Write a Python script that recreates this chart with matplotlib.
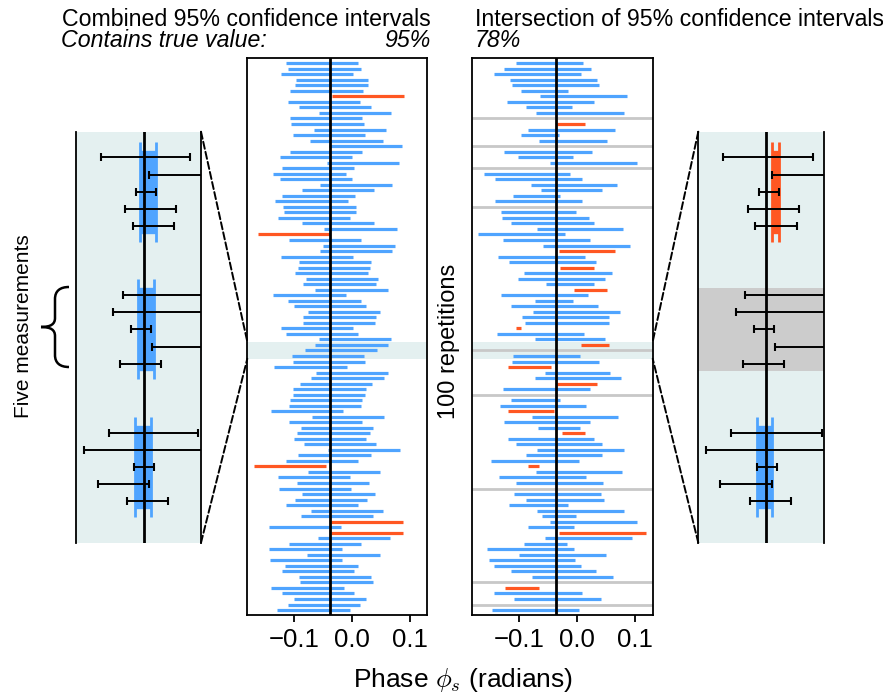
import numpy as np
import matplotlib.pyplot as plt
from matplotlib.patches import ConnectionPatch, PathPatch
from matplotlib.path import Path

plt.rcParams['font.family'] = ['Liberation Sans', 'DejaVu Sans']

true_phase = -0.037

# combined (weighted) 95% intervals, one per repetition: centre and half width
comb_halfwidth = 0.0624
comb_centers = [
    -0.0520, -0.0474, -0.0603, -0.0342, -0.0353, -0.0440, 0.0276, -0.0486, -0.0290, 0.0052,
    -0.0448, -0.0422, -0.0029, -0.0399, -0.0095, 0.0236, -0.0448, -0.0621, 0.0195, -0.0586,
    -0.0733, -0.0621, 0.0069, -0.0239, -0.0578, -0.0698, -0.0560, -0.0552, -0.0652, -0.0244,
    0.0147, -0.1000, -0.0466, 0.0124, 0.0075, -0.0603, -0.0290, -0.0307, -0.0351, -0.0172,
    -0.0216, -0.0006, -0.0730, -0.0474, -0.0374, -0.0132, -0.0213, -0.0218, -0.0598, -0.0517,
    0.0052, -0.0009, -0.0193, -0.0417, -0.0399, -0.0713, 0.0006, -0.0075, -0.0276, -0.0385,
    -0.0394, -0.0443, -0.0460, -0.0776, -0.0063, -0.0454, -0.0253, -0.0316, -0.0374, -0.0207,
    0.0207, -0.0299, -0.0511, -0.1063, -0.0138, -0.0658, -0.0328, -0.0641, -0.0230, -0.0356,
    -0.0511, -0.0080, -0.0253, 0.0259, -0.0813, 0.0261, 0.0034, -0.0466, -0.0802, -0.0144,
    -0.0793, -0.0523, -0.0580, -0.0293, -0.0264, -0.0764, -0.0580, -0.0376, -0.0477, -0.0661,
]

# intersection of the five 95% intervals (nan = empty intersection)
nan = np.nan
inter_lo = [
    -0.1046, -0.1260, -0.1439, -0.1162, -0.1121, -0.0960, -0.0647, -0.1202, -0.0879, -0.0705,
    nan, -0.0341, -0.0850, -0.0971, -0.0653, nan, -0.1254, -0.1012, -0.0474, nan,
    -0.1607, -0.1422, -0.0803, -0.0630, -0.1098, -0.1416, nan, -0.1306, -0.1301, -0.1133,
    -0.0688, -0.1699, -0.1277, -0.0595, -0.0318, -0.1364, -0.1168, -0.0295, -0.0908, -0.1017,
    -0.0532, -0.0046, -0.1306, -0.0728, -0.1133, -0.0763, -0.0954, -0.0896, -0.1058, -0.1376,
    -0.0734, 0.0064, nan, -0.1098, -0.1127, -0.1197, -0.0555, -0.0734, -0.0341, -0.1283,
    nan, -0.1139, -0.1329, -0.1197, -0.0780, -0.1266, -0.0676, -0.0254, -0.1197, -0.1058,
    -0.0688, -0.0879, -0.1480, -0.0844, -0.0717, -0.1341, -0.1052, nan, -0.1092, -0.0873,
    -0.1173, -0.0699, -0.0607, -0.0474, -0.0850, -0.0318, -0.0561, -0.0919, -0.1555, -0.1006,
    -0.1526, -0.1434, -0.1133, -0.0775, nan, -0.1237, -0.1428, -0.1081, nan, -0.1468,
]
inter_hi = [
    0.0092, 0.0237, 0.0058, 0.0335, 0.0376, -0.0156, 0.0850, 0.0283, -0.0087, 0.0798,
    nan, 0.0139, 0.0653, -0.0318, 0.0520, nan, 0.0249, -0.0075, 0.1023, nan,
    -0.0116, 0.0075, 0.0694, 0.0428, -0.0289, 0.0081, nan, -0.0017, 0.0197, 0.0295,
    0.0792, -0.0202, 0.0220, 0.0902, 0.0653, 0.0133, 0.0329, 0.0283, 0.0595, 0.0480,
    0.0295, 0.0514, 0.0191, -0.0069, 0.0364, 0.0734, 0.0543, 0.0555, -0.0960, 0.0116,
    0.0480, 0.0549, nan, 0.0052, 0.0370, -0.0445, 0.0566, 0.0757, 0.0335, 0.0214,
    nan, -0.0289, 0.0156, -0.0399, 0.0711, 0.0225, 0.0046, 0.0139, 0.0295, 0.0434,
    0.0809, 0.0422, 0.0023, -0.0665, 0.0775, 0.0156, 0.0439, nan, 0.0405, 0.0468,
    -0.0162, 0.0798, -0.0017, 0.1023, -0.0058, 0.1185, 0.0936, -0.0173, -0.0052, 0.0497,
    -0.0029, 0.0064, 0.0324, 0.0618, nan, -0.0665, 0.0075, 0.0416, nan, 0.0029,
]

# the five individual measurements of repetitions 51-53
zoom_rows = [51, 52, 53]
meas_lo = [
    [-0.363, 0.0085, -0.0926, -0.176, -0.1203],
    [-0.195, -0.2668, -0.1304, 0.0287, -0.2138],
    [-0.302, -0.489, -0.1077, -0.383, -0.1607],
]
meas_hi = [
    [0.317, 1.0085, 0.0564, 0.213, 0.1928],
    [0.485, 0.7332, 0.0186, 0.4177, 0.0994],
    [0.3797, 0.511, 0.0413, 0.0085, 0.1524],
]

blue = '#4fa4ff'
orange = '#ff5722'
grey = '#c8c8c8'
band = '#e4f0f0'

W, H = 883, 697
fig = plt.figure(figsize=(W / 100, H / 100), dpi=100)


def box(x0, y0, x1, y1):
    return [x0 / W, 1 - y1 / H, (x1 - x0) / W, (y1 - y0) / H]


ax_comb = fig.add_axes(box(247.3, 58, 427.3, 615.3))
ax_int = fig.add_axes(box(472.3, 58, 652.7, 615.3))
ax_zl = fig.add_axes(box(76, 131.7, 201, 542.7))
ax_zr = fig.add_axes(box(698.3, 131.7, 824.3, 542.7))

rows = np.arange(len(comb_centers))

# combined intervals
c = np.array(comb_centers)
clo, chi = c - comb_halfwidth, c + comb_halfwidth
c_ok = (clo <= true_phase) & (chi >= true_phase)
ax_comb.hlines(rows, clo, chi, colors=[blue if ok else orange for ok in c_ok],
               lw=2.3, zorder=2)

# intersections
ilo, ihi = np.array(inter_lo), np.array(inter_hi)
empty = np.isnan(ilo)
i_ok = (ilo <= true_phase) & (ihi >= true_phase)
for k in rows[empty]:
    ax_int.axhline(k, color=grey, lw=2.0, zorder=1)
full = ~empty
ax_int.hlines(rows[full], ilo[full], ihi[full],
              colors=[blue if ok else orange for ok in i_ok[full]], lw=2.3, zorder=2)

for ax in (ax_comb, ax_int):
    ax.axhspan(zoom_rows[0] - 0.6, zoom_rows[-1] + 0.5, color=band, lw=0, zorder=0)
    ax.axvline(true_phase, color='black', lw=2.0, zorder=3)
    ax.set_xlim(-0.1805, 0.130)
    ax.set_ylim(99.95, -0.95)
    ax.set_xticks([-0.1, 0.0, 0.1])
    ax.set_yticks([])
    ax.tick_params(axis='x', length=5, width=1.3, labelsize=18.5, pad=4.5)
    for s in ax.spines.values():
        s.set_linewidth(1.3)

# zoomed views of three repetitions
group_y = [0, 8, 16]
for ax in (ax_zl, ax_zr):
    ax.set_facecolor(band)
    ax.set_xlim(-0.55, 0.40)
    ax.set_ylim(22.4, -1.5)
    ax.set_xticks([])
    ax.set_yticks([])
    ax.spines['top'].set_visible(False)
    ax.spines['bottom'].set_visible(False)
    for s in ('left', 'right'):
        ax.spines[s].set_linewidth(1.3)
    ax.axvline(true_phase, color='black', lw=2.0, zorder=2)
    for g in range(3):
        lo = np.array(meas_lo[g])
        hi = np.array(meas_hi[g])
        ys = group_y[g] + np.arange(5)
        ax.errorbar((lo + hi) / 2, ys, xerr=(hi - lo) / 2, fmt='none', ecolor='black',
                    elinewidth=1.4, capsize=2.6, capthick=1.5, zorder=3)

for g, row in enumerate(zoom_rows):
    yc = group_y[g] + 2
    col = blue if c_ok[row] else orange
    ax_zl.errorbar(comb_centers[row], yc, xerr=comb_halfwidth, fmt='none', ecolor=col,
                   elinewidth=60, capsize=36, capthick=2, zorder=1)
    if empty[row]:
        ax_zr.axhspan(yc - 2.42, yc + 2.42, color='#cccccc', lw=0, zorder=0.5)
    else:
        col = blue if i_ok[row] else orange
        ax_zr.errorbar((ilo[row] + ihi[row]) / 2, yc, xerr=(ihi[row] - ilo[row]) / 2,
                       fmt='none', ecolor=col, elinewidth=60, capsize=36, capthick=2,
                       zorder=1)

# dashed connectors between the zoom panels and the highlighted band
y_top, y_bot = zoom_rows[0] - 0.6, zoom_rows[-1] + 0.5
for (xa, ya), yb in (((1, 1), y_top), ((1, 0), y_bot)):
    fig.add_artist(ConnectionPatch(xyA=(xa, ya), coordsA=ax_zl.transAxes,
                                   xyB=(0, yb), coordsB=ax_comb.get_yaxis_transform(),
                                   ls='--', lw=1.4, color='black'))
for (xa, ya), yb in (((0, 1), y_top), ((0, 0), y_bot)):
    fig.add_artist(ConnectionPatch(xyA=(xa, ya), coordsA=ax_zr.transAxes,
                                   xyB=(1, yb), coordsB=ax_int.get_yaxis_transform(),
                                   ls='--', lw=1.4, color='black'))

# titles
cover_comb = 100 * c_ok.mean()
cover_int = 100 * i_ok.mean()
fs = 16.7
fig.text(431 / W, 1 - 25.5 / H, 'Combined 95% confidence intervals', ha='right',
         va='baseline', fontsize=fs)
fig.text(61 / W, 1 - 46.7 / H, 'Contains true value:', style='italic', ha='left',
         va='baseline', fontsize=fs)
fig.text(431 / W, 1 - 46.7 / H, f'{cover_comb:.0f}%', style='italic', ha='right',
         va='baseline', fontsize=fs)
fig.text(475 / W, 1 - 25.5 / H, 'Intersection of 95% confidence intervals', ha='left',
         va='baseline', fontsize=fs)
fig.text(475 / W, 1 - 46.7 / H, f'{cover_int:.0f}%', style='italic', ha='left',
         va='baseline', fontsize=fs)

fig.text(463.5 / W, 1 - 687.3 / H, r'Phase $\phi_s$ (radians)', ha='center',
         va='baseline', fontsize=19, math_fontfamily='cm')
fig.text(23.5 / W, 1 - 326 / H, 'Five measurements', rotation=90, ha='center',
         va='center', fontsize=15)
fig.text(449 / W, 1 - 341 / H, '100 repetitions', rotation=90, ha='center',
         va='center', fontsize=17)

# curly brace next to the middle group
pts = [(69, 287), (60, 287), (55, 291), (55, 299), (55, 318), (55, 324), (51, 327), (41, 327),
       (51, 327), (55, 330), (55, 336), (55, 355), (55, 363), (60, 367), (69, 367)]
codes = [Path.MOVETO, Path.CURVE4, Path.CURVE4, Path.CURVE4, Path.LINETO,
         Path.CURVE4, Path.CURVE4, Path.CURVE4, Path.CURVE4, Path.CURVE4, Path.CURVE4,
         Path.LINETO, Path.CURVE4, Path.CURVE4, Path.CURVE4]
brace = Path([(x / W, 1 - y / H) for x, y in pts], codes)
fig.add_artist(PathPatch(brace, transform=fig.transFigure, fill=False, lw=1.8,
                         edgecolor='black'))

fig.savefig('out.png', dpi=100)
